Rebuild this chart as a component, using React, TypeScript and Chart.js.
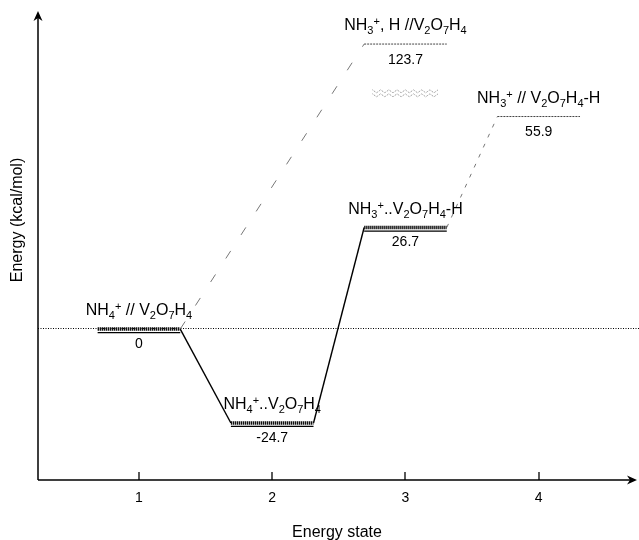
import React, { useEffect, useRef } from 'react';
import { Chart, LinearScale, registerables } from 'chart.js';

// ---------------- data ----------------
const STATES = [1, 2, 3, 4];
const LEVEL_STATES = [1, 2, 3, 3, 4];
const LEVEL_ENERGIES = [0, -24.7, 26.7, 123.7, 55.9];
const LEVEL_VALUE_LABELS = ['0', '-24.7', '26.7', '123.7', '55.9'];
const LEVEL_NAMES = [
  'NH_4^+ // V_2O_7H_4',
  'NH_4^+..V_2O_7H_4',
  'NH_3^+..V_2O_7H_4-H',
  'NH_3^+, H //V_2O_7H_4',
  'NH_3^+ // V_2O_7H_4-H',
];
const LEVEL_BOUND = [true, true, true, false, false];
const SOLID_PATHS = [[0, 1], [1, 2]];
const DOTTED_PATHS = [[0, 3], [2, 4]];
const REFERENCE_ENERGY = 0;
const X_TITLE = 'Energy state';
const Y_TITLE = 'Energy (kcal/mol)';

// ---------------- layout / style ----------------
const FONT = '"Liberation Sans", Arial, sans-serif';
const HALF = 0.31;
const X_MIN = 0.2425;
const X_MAX = 4.73;
const BREAK_AT = 62;
const BREAK_RATIO = 0.21;
const Y_MIN = -39.7;
const Y_MAX = 82.6;

const squash = (v: number) => (v <= BREAK_AT ? v : BREAK_AT + (v - BREAK_AT) * BREAK_RATIO);
const unsquash = (t: number) => (t <= BREAK_AT ? t : BREAK_AT + (t - BREAK_AT) / BREAK_RATIO);

class BrokenLinearScale extends LinearScale {
  static id = 'brokenLinear';
  static defaults = LinearScale.defaults;
  getPixelForValue(value: any, index?: number) {
    return super.getPixelForValue(squash(value), index);
  }
  getValueForPixel(pixel: number) {
    return unsquash(super.getValueForPixel(pixel));
  }
}

Chart.register(...registerables, BrokenLinearScale as any);

function drawRich(ctx: CanvasRenderingContext2D, text: string, cx: number, baseline: number, size: number) {
  const parts: { t: string; mode: number }[] = [];
  for (let i = 0; i < text.length; i++) {
    const c = text[i];
    if ((c === '_' || c === '^') && i + 1 < text.length) {
      parts.push({ t: text[i + 1], mode: c === '_' ? 1 : 2 });
      i++;
    } else parts.push({ t: c, mode: 0 });
  }
  const small = Math.round(size * 0.7);
  const fontFor = (m: number) => `${m === 0 ? size : small}px ${FONT}`;
  let total = 0;
  for (const p of parts) {
    ctx.font = fontFor(p.mode);
    total += ctx.measureText(p.t).width;
  }
  let x = cx - total / 2;
  ctx.textAlign = 'left';
  ctx.textBaseline = 'alphabetic';
  for (const p of parts) {
    ctx.font = fontFor(p.mode);
    const dy = p.mode === 1 ? size * 0.25 : p.mode === 2 ? -size * 0.3 : 0;
    ctx.fillText(p.t, x, baseline + dy);
    x += ctx.measureText(p.t).width;
  }
}

const decorPlugin = {
  id: 'decor',
  beforeDatasetsDraw(chart: any) {
    const { ctx, chartArea, scales } = chart;
    const y0 = Math.round(scales.y.getPixelForValue(REFERENCE_ENERGY)) - 0.5;
    ctx.save();
    ctx.strokeStyle = '#000';
    ctx.lineWidth = 1;
    ctx.setLineDash([1, 1.5]);
    ctx.beginPath();
    ctx.moveTo(chartArea.left, y0);
    ctx.lineTo(chart.width, y0);
    ctx.stroke();
    ctx.restore();
  },
  afterDatasetsDraw(chart: any) {
    const { ctx, chartArea, scales } = chart;
    const xs = scales.x;
    const ys = scales.y;
    ctx.save();
    // underlines of bound levels
    ctx.strokeStyle = '#000';
    ctx.lineWidth = 1.2;
    LEVEL_ENERGIES.forEach((e, i) => {
      if (!LEVEL_BOUND[i]) return;
      const py = ys.getPixelForValue(e) + 3.5;
      ctx.beginPath();
      ctx.moveTo(xs.getPixelForValue(LEVEL_STATES[i] - HALF), py);
      ctx.lineTo(xs.getPixelForValue(LEVEL_STATES[i] + HALF), py);
      ctx.stroke();
    });
    // axis break symbol
    const bx = xs.getPixelForValue(3);
    const by = ys.getPixelForValue(BREAK_AT);
    ctx.strokeStyle = '#8a8a8a';
    ctx.lineWidth = 1;
    ctx.setLineDash([1, 1]);
    for (const off of [-2, 2]) {
      ctx.beginPath();
      for (let k = 0; k <= 16; k++) {
        const px = bx - 33 + k * 4.1;
        const py = by + off + (k % 2 === 0 ? -1.5 : 1.5);
        if (k === 0) ctx.moveTo(px, py);
        else ctx.lineTo(px, py);
      }
      ctx.stroke();
    }
    ctx.setLineDash([]);
    // labels
    ctx.fillStyle = '#000';
    LEVEL_ENERGIES.forEach((e, i) => {
      const cx = xs.getPixelForValue(LEVEL_STATES[i]);
      const py = ys.getPixelForValue(e);
      drawRich(ctx, LEVEL_NAMES[i], cx, py - 14, 16);
      ctx.font = `14px ${FONT}`;
      ctx.textAlign = 'center';
      ctx.textBaseline = 'middle';
      ctx.fillText(LEVEL_VALUE_LABELS[i], cx, py + (LEVEL_BOUND[i] ? 15 : 16));
    });
    // axes
    const L = chartArea.left;
    const B = chartArea.bottom;
    ctx.strokeStyle = '#000';
    ctx.fillStyle = '#000';
    ctx.lineWidth = 1.5;
    ctx.beginPath();
    ctx.moveTo(L, B);
    ctx.lineTo(L, 18);
    ctx.moveTo(L, B);
    ctx.lineTo(chart.width - 8, B);
    ctx.stroke();
    // arrowheads
    ctx.beginPath();
    ctx.moveTo(L, 11);
    ctx.lineTo(L - 4.5, 21);
    ctx.lineTo(L, 18);
    ctx.lineTo(L + 4.5, 21);
    ctx.closePath();
    ctx.fill();
    const tx = chart.width - 2;
    ctx.beginPath();
    ctx.moveTo(tx, B);
    ctx.lineTo(tx - 10, B - 4.5);
    ctx.lineTo(tx - 7, B);
    ctx.lineTo(tx - 10, B + 4.5);
    ctx.closePath();
    ctx.fill();
    // ticks
    ctx.lineWidth = 1.3;
    STATES.forEach((s) => {
      const px = Math.round(xs.getPixelForValue(s));
      ctx.beginPath();
      ctx.moveTo(px, B);
      ctx.lineTo(px, B - 8);
      ctx.stroke();
    });
    // y title
    ctx.translate(18, 220);
    ctx.rotate(-Math.PI / 2);
    ctx.font = `16px ${FONT}`;
    ctx.textAlign = 'center';
    ctx.textBaseline = 'middle';
    ctx.fillText(Y_TITLE, 0, 0);
    ctx.restore();
  },
};

export default function App() {
  const ref = useRef<HTMLCanvasElement>(null);
  useEffect(() => {
    document.body.style.margin = '0';
    const datasets: any[] = [];
    LEVEL_ENERGIES.forEach((e, i) => {
      const s = LEVEL_STATES[i];
      datasets.push({
        label: LEVEL_VALUE_LABELS[i],
        data: [
          { x: s - HALF, y: e },
          { x: s + HALF, y: e },
        ],
        borderColor: LEVEL_BOUND[i] ? '#111' : '#444',
        borderWidth: LEVEL_BOUND[i] ? 3.5 : 1,
        borderDash: LEVEL_BOUND[i] ? [1.4, 0.6] : [2, 1],
        pointRadius: 0,
        showLine: true,
      });
    });
    SOLID_PATHS.forEach(([a, b]) => {
      datasets.push({
        data: [
          { x: LEVEL_STATES[a] + HALF, y: LEVEL_ENERGIES[a] },
          { x: LEVEL_STATES[b] - HALF, y: LEVEL_ENERGIES[b] },
        ],
        borderColor: '#000',
        borderWidth: 1.4,
        pointRadius: 0,
        showLine: true,
      });
    });
    DOTTED_PATHS.forEach(([a, b], k) => {
      datasets.push({
        data: [
          { x: LEVEL_STATES[a] + HALF, y: LEVEL_ENERGIES[a] },
          { x: LEVEL_STATES[b] - HALF, y: LEVEL_ENERGIES[b] },
        ],
        borderColor: '#777',
        borderWidth: 1,
        borderDash: k === 0 ? [9, 19] : [4, 7],
        pointRadius: 0,
        showLine: true,
      });
    });
    const chart = new Chart(ref.current!, {
      type: 'scatter',
      data: { datasets },
      options: {
        animation: false,
        responsive: false,
        devicePixelRatio: 1,
        layout: { padding: { top: 15, right: 3, left: 0, bottom: 0 } },
        plugins: { legend: { display: false }, tooltip: { enabled: false } },
        scales: {
          x: {
            type: 'linear',
            min: X_MIN,
            max: X_MAX,
            border: { display: false },
            grid: { display: false, drawTicks: false },
            afterBuildTicks: (s: any) => {
              s.ticks = STATES.map((v) => ({ value: v }));
            },
            ticks: { color: '#000', font: { family: FONT, size: 14 }, padding: 10, maxRotation: 0 },
            title: {
              display: true,
              text: X_TITLE,
              color: '#000',
              font: { family: FONT, size: 16 },
              padding: { top: 2, bottom: -2 },
            },
            afterFit: (s: any) => {
              s.height = 60;
            },
          },
          y: {
            type: 'brokenLinear' as any,
            min: Y_MIN,
            max: Y_MAX,
            border: { display: false },
            grid: { display: false, drawTicks: false },
            ticks: { display: false },
            afterFit: (s: any) => {
              s.width = 38;
            },
          },
        },
      },
      plugins: [decorPlugin],
    } as any);
    return () => chart.destroy();
  }, []);
  return (
    <div style={{ position: 'absolute', left: 0, top: 0, width: 639, height: 540, background: '#fff' }}>
      <canvas ref={ref} width={639} height={540} style={{ display: 'block' }} />
    </div>
  );
}
